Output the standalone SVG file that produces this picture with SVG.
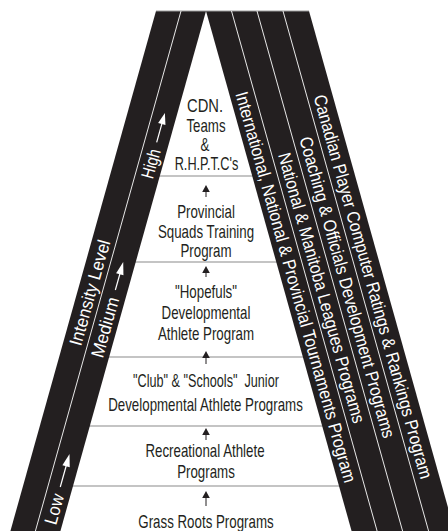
<svg xmlns="http://www.w3.org/2000/svg" width="448" height="531" viewBox="0 0 448 531">
<style>
.band{fill:#231f20}
.wl{stroke:#e8e8e8;stroke-width:1;fill:none}
.sep{stroke:#8a8a8a;stroke-width:1.2}
.t{font-family:"Liberation Sans",Arial,sans-serif;font-size:18px;fill:#231f20;text-anchor:middle}
.bt{font-family:"Liberation Sans",Arial,sans-serif;font-size:18px;fill:#ffffff}
.ah{fill:#231f20}
.as{stroke:#231f20;stroke-width:1}
.wh{fill:#ffffff}
.ws{stroke:#ffffff;stroke-width:1.2}
</style>
<rect width="448" height="531" fill="#ffffff"/>
<g id="levels-separators">
<line class="sep" x1="155" y1="176" x2="257" y2="176"/>
<line class="sep" x1="131" y1="262" x2="281" y2="262"/>
<line class="sep" x1="104" y1="357" x2="308" y2="357"/>
<line class="sep" x1="85" y1="426" x2="327" y2="426"/>
<line class="sep" x1="68" y1="486" x2="344" y2="486"/>
</g>
<g id="bands">
<polygon class="band" points="156,11 206,11 57.9,540 7.9,540"/>
<polygon class="band" points="206,11 309,11 457.1,540 354.1,540"/>
<line x1="156" y1="11" x2="309" y2="11" stroke="#9a9a9a" stroke-width="1"/>
<line class="wl" x1="181" y1="11" x2="32.9" y2="540"/>
<line class="wl" x1="231.5" y1="11" x2="379.6" y2="540"/>
<line class="wl" x1="257" y1="11" x2="405.1" y2="540"/>
<line class="wl" x1="283" y1="11" x2="431.1" y2="540"/>
</g>
<g id="level-cdn">
<text class="t" transform="translate(205,112) scale(0.82,1)">CDN.</text>
<text class="t" transform="translate(206,132) scale(0.74,1)">Teams</text>
<text class="t" transform="translate(205,151) scale(0.74,1)">&amp;</text>
<text class="t" transform="translate(206.5,170) scale(0.74,1)" textLength="86" lengthAdjust="spacingAndGlyphs">R.H.P.T.C's</text>
</g>
<g id="level-provincial">
<text class="t" transform="translate(206,218) scale(0.74,1)">Provincial</text>
<text class="t" transform="translate(206,238) scale(0.74,1)">Squads Training</text>
<text class="t" transform="translate(206,257) scale(0.74,1)">Program</text>
</g>
<g id="level-hopefuls">
<text class="t" transform="translate(206,298) scale(0.74,1)">"Hopefuls"</text>
<text class="t" transform="translate(206,319) scale(0.74,1)">Developmental</text>
<text class="t" transform="translate(206,340) scale(0.74,1)">Athlete Program</text>
</g>
<g id="level-club">
<text class="t" transform="translate(206,387) scale(0.74,1)" xml:space="preserve" textLength="197" lengthAdjust="spacingAndGlyphs">"Club" &amp; "Schools"  Junior</text>
<text class="t" transform="translate(205.5,411) scale(0.74,1)">Developmental Athlete Programs</text>
</g>
<g id="level-recreational">
<text class="t" transform="translate(205,457) scale(0.74,1)">Recreational Athlete</text>
<text class="t" transform="translate(206,478) scale(0.74,1)">Programs</text>
</g>
<g id="level-grassroots">
<text class="t" transform="translate(206,528) scale(0.74,1)">Grass Roots Programs</text>
</g>
<g id="intensity-label">
<text class="bt" transform="translate(75,345) rotate(-74.36)" dy="0.35em" textLength="109" lengthAdjust="spacingAndGlyphs">Intensity Level</text>
</g>
<g id="intensity-high" transform="translate(146.7,178) rotate(-74.36)">
<text class="bt" dy="0.35em" textLength="30" lengthAdjust="spacingAndGlyphs">High</text>
<line class="ws" x1="37" y1="0" x2="57" y2="0"/>
<polygon class="wh" points="56,-3.8 67.5,0 56,3.8"/>
</g>
<g id="intensity-medium" transform="translate(96.6,357) rotate(-74.36)">
<text class="bt" dy="0.35em" textLength="62" lengthAdjust="spacingAndGlyphs">Medium</text>
<line class="ws" x1="69.6" y1="0" x2="87" y2="0"/>
<polygon class="wh" points="86,-3.8 98.7,0 86,3.8"/>
</g>
<g id="intensity-low" transform="translate(49.9,524) rotate(-74.36)">
<text class="bt" dy="0.35em" textLength="31" lengthAdjust="spacingAndGlyphs">Low</text>
<line class="ws" x1="38.4" y1="0" x2="61" y2="0"/>
<polygon class="wh" points="60,-3.8 72.7,0 60,3.8"/>
</g>
<g id="program-tournaments">
<text class="bt" transform="translate(241.4,92) rotate(74.36)" dy="0.35em" textLength="405" lengthAdjust="spacingAndGlyphs">International, National &amp; Provincial Tournaments Program</text>
</g>
<g id="program-leagues">
<text class="bt" transform="translate(284,153) rotate(74.36)" dy="0.35em" textLength="280" lengthAdjust="spacingAndGlyphs">National &amp; Manitoba Leagues Programs</text>
</g>
<g id="program-coaching">
<text class="bt" transform="translate(305.3,137) rotate(74.36)" dy="0.35em" textLength="312" lengthAdjust="spacingAndGlyphs">Coaching &amp; Officials Development Programs</text>
</g>
<g id="program-ratings">
<text class="bt" transform="translate(319.5,95) rotate(74.36)" dy="0.35em" textLength="398" lengthAdjust="spacingAndGlyphs">Canadian Player Computer Ratings &amp; Rankings Program</text>
</g>
<g id="connectors">
<polygon class="ah" points="206,185 202.2,192 209.8,192"/>
<line class="as" x1="206" y1="191" x2="206" y2="197"/>
<polygon class="ah" points="206,266 202.2,273 209.8,273"/>
<line class="as" x1="206" y1="272" x2="206" y2="277"/>
<polygon class="ah" points="206,351 202.2,358 209.8,358"/>
<line class="as" x1="206" y1="357" x2="206" y2="364"/>
<polygon class="ah" points="206,428 202.2,435 209.8,435"/>
<line class="as" x1="206" y1="434" x2="206" y2="440"/>
<polygon class="ah" points="206,491 202.2,498 209.8,498"/>
<line class="as" x1="206" y1="497" x2="206" y2="506"/>
</g>
</svg>
